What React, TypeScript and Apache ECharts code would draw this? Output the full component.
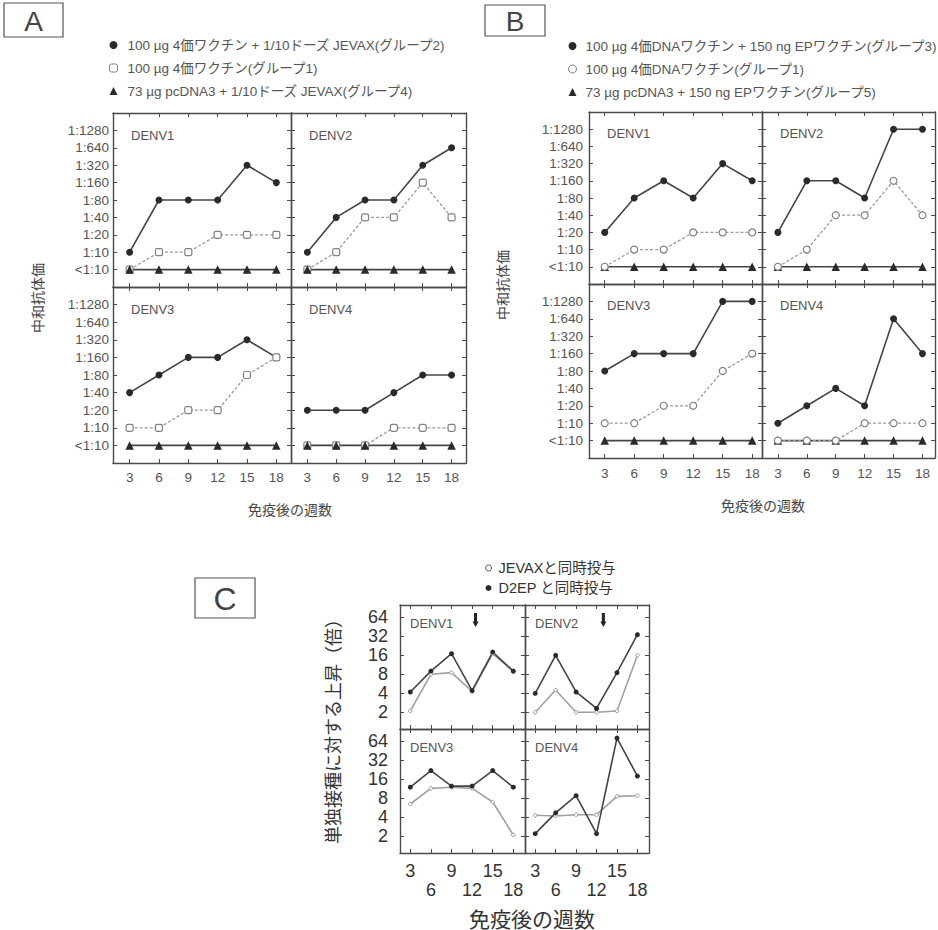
import React, { useEffect, useRef } from 'react';
import * as echarts from 'echarts';

// ---------------- data ----------------
const weeks = [3, 6, 9, 12, 15, 18];
const serotypes = ['DENV1', 'DENV2', 'DENV3', 'DENV4'];
const titerLabels = ['<1:10', '1:10', '1:20', '1:40', '1:80', '1:160', '1:320', '1:640', '1:1280'];
const foldTicks = [2, 4, 8, 16, 32, 64];

const legendA = [
  '100 µg 4価ワクチン + 1/10ドーズ JEVAX(グループ2)',
  '100 µg 4価ワクチン(グループ1)',
  '73 µg pcDNA3 + 1/10ドーズ JEVAX(グループ4)',
];
const legendB = [
  '100 µg 4価DNAワクチン + 150 ng EPワクチン(グループ3)',
  '100 µg 4価DNAワクチン(グループ1)',
  '73 µg pcDNA3 + 150 ng EPワクチン(グループ5)',
];
const legendC = ['JEVAXと同時投与', 'D2EP と同時投与'];

// reciprocal neutralising titres, 0 = <1:10 ; rows = DENV1..DENV4
const aGroup2 = [
  [10, 80, 80, 80, 320, 160],
  [10, 40, 80, 80, 320, 640],
  [40, 80, 160, 160, 320, 160],
  [20, 20, 20, 40, 80, 80],
];
const aGroup1 = [
  [0, 10, 10, 20, 20, 20],
  [0, 10, 40, 40, 160, 40],
  [10, 10, 20, 20, 80, 160],
  [0, 0, 0, 10, 10, 10],
];
const aGroup4 = [
  [0, 0, 0, 0, 0, 0],
  [0, 0, 0, 0, 0, 0],
  [0, 0, 0, 0, 0, 0],
  [0, 0, 0, 0, 0, 0],
];
const bGroup3 = [
  [20, 80, 160, 80, 320, 160],
  [20, 160, 160, 80, 1280, 1280],
  [80, 160, 160, 160, 1280, 1280],
  [10, 20, 40, 20, 640, 160],
];
const bGroup1 = [
  [0, 10, 10, 20, 20, 20],
  [0, 10, 40, 40, 160, 40],
  [10, 10, 20, 20, 80, 160],
  [0, 0, 0, 10, 10, 10],
];
const bGroup5 = [
  [0, 0, 0, 0, 0, 0],
  [0, 0, 0, 0, 0, 0],
  [0, 0, 0, 0, 0, 0],
  [0, 0, 0, 0, 0, 0],
];
// fold increase over single inoculation ; rows = DENV1..DENV4
const cJevax = [
  [2.1, 8, 8.5, 4.3, 17, 8.8],
  [2, 4.5, 2, 2, 2.1, 16],
  [6.5, 11.5, 12, 11.5, 7, 2.1],
  [4.3, 4.2, 4.4, 4.4, 8.6, 8.8],
];
const cD2ep = [
  [4.2, 9, 17, 4.4, 18, 9],
  [4, 16, 4.2, 2.3, 8.5, 34],
  [12, 22, 12.5, 12.5, 22, 12],
  [2.2, 4.7, 8.8, 2.2, 72, 18],
];
const arrowWeeks = [12.5, 13];
const arrowFold = 58;

// ---------------- styling ----------------
const FONT = "'Liberation Sans', Arial, 'Noto Sans CJK JP', sans-serif";
const FRAME = '#4a4a4a';
const DARK = '#2a2a2a';
const LABEL = '#555';

type Box = { left: number; top: number; width: number; height: number };

const A_BOX: Box[] = [
  { left: 113, top: 113, width: 178, height: 174 },
  { left: 291, top: 113, width: 175, height: 174 },
  { left: 113, top: 287, width: 178, height: 176 },
  { left: 291, top: 287, width: 175, height: 176 },
];
const B_BOX: Box[] = [
  { left: 589, top: 112, width: 173, height: 172 },
  { left: 762, top: 112, width: 173, height: 172 },
  { left: 589, top: 284, width: 173, height: 174 },
  { left: 762, top: 284, width: 173, height: 174 },
];
const C_BOX: Box[] = [
  { left: 400, top: 605, width: 125, height: 124 },
  { left: 525, top: 605, width: 124, height: 124 },
  { left: 400, top: 729, width: 125, height: 124 },
  { left: 525, top: 729, width: 124, height: 124 },
];

const titerLevel = (v: number) => (v <= 0 ? 0 : Math.log2(v / 10) + 1);
const foldLevel = (v: number) => Math.log2(v);

function buildOption() {
  const grid: any[] = [];
  const xAxis: any[] = [];
  const yAxis: any[] = [];
  const series: any[] = [];
  const graphic: any[] = [];

  const addPanel = (box: Box, xr: number[], yr: number[], cfg: any) => {
    const g = grid.length;
    grid.push({ left: box.left, top: box.top, width: box.width, height: box.height });
    const line = { show: true, onZero: false, lineStyle: { color: FRAME, width: 1.4 } };
    const tick = (vals: number[]) => ({
      show: true,
      inside: true,
      length: 4,
      customValues: vals,
      lineStyle: { color: FRAME, width: 1 },
    });
    xAxis.push({
      gridIndex: g,
      type: 'value',
      position: 'bottom',
      min: xr[0],
      max: xr[1],
      axisLine: line,
      axisTick: tick(cfg.xTicks),
      splitLine: { show: false },
      axisLabel: cfg.showX
        ? {
            show: true,
            customValues: cfg.xTicks,
            margin: cfg.xMargin,
            fontSize: cfg.xFont,
            color: cfg.labelColor,
            fontFamily: FONT,
            lineHeight: cfg.xLineHeight,
            formatter: cfg.xFormatter,
          }
        : { show: false },
    });
    xAxis.push({
      gridIndex: g,
      type: 'value',
      position: 'top',
      min: xr[0],
      max: xr[1],
      axisLine: line,
      axisTick: tick(cfg.xTicks),
      splitLine: { show: false },
      axisLabel: { show: false },
    });
    yAxis.push({
      gridIndex: g,
      type: 'value',
      position: 'left',
      min: yr[0],
      max: yr[1],
      axisLine: line,
      axisTick: tick(cfg.yTicks),
      splitLine: { show: false },
      axisLabel: cfg.showY
        ? {
            show: true,
            customValues: cfg.yTicks,
            margin: cfg.yMargin,
            fontSize: cfg.yFont,
            color: cfg.labelColor,
            fontFamily: FONT,
            formatter: cfg.yFormatter,
          }
        : { show: false },
    });
    yAxis.push({
      gridIndex: g,
      type: 'value',
      position: 'right',
      min: yr[0],
      max: yr[1],
      axisLine: line,
      axisTick: tick(cfg.yTicks),
      splitLine: { show: false },
      axisLabel: { show: false },
    });
    return 2 * g;
  };

  const titerTicks = titerLabels.map((_, i) => i);
  const titerFmt = (v: number) => titerLabels[Math.round(v)] ?? '';

  const filled = (name: string, ax: number, vals: number[]) => ({
    type: 'line', name, xAxisIndex: ax, yAxisIndex: ax, silent: true,
    data: weeks.map((w, i) => [w, titerLevel(vals[i])]),
    symbol: 'circle', symbolSize: 7,
    itemStyle: { color: DARK },
    lineStyle: { color: '#444', width: 1.6 },
  });
  const open = (name: string, ax: number, vals: number[], sym: string) => ({
    type: 'line', name, xAxisIndex: ax, yAxisIndex: ax, silent: true,
    data: weeks.map((w, i) => [w, titerLevel(vals[i])]),
    symbol: sym, symbolSize: 7,
    itemStyle: { color: '#fff', borderColor: '#808080', borderWidth: 1.2 },
    lineStyle: { color: '#9a9a9a', width: 1.3, type: [3, 2] },
  });
  const tri = (name: string, ax: number, vals: number[]) => ({
    type: 'line', name, xAxisIndex: ax, yAxisIndex: ax, silent: true,
    data: weeks.map((w, i) => [w, titerLevel(vals[i])]),
    symbol: 'triangle', symbolSize: 8.5,
    itemStyle: { color: DARK },
    lineStyle: { color: '#444', width: 1.6 },
  });

  // ---- Panel A ----
  A_BOX.forEach((box, k) => {
    const ax = addPanel(box, [1.3, 19.5], [-1, 9], {
      xTicks: weeks, yTicks: titerTicks,
      showX: k >= 2, showY: k % 2 === 0,
      xMargin: 8, xFont: 13.5, yMargin: 4, yFont: 13.5, labelColor: LABEL,
      yFormatter: titerFmt,
    });
    series.push(filled(legendA[0], ax, aGroup2[k]));
    series.push(open(legendA[1], ax, aGroup1[k], 'roundRect'));
    series.push(tri(legendA[2], ax, aGroup4[k]));
    graphic.push({
      type: 'text', x: box.left + 18, y: box.top + 22, silent: true,
      style: { text: serotypes[k], fill: LABEL, fontSize: 13, fontFamily: FONT, align: 'left', verticalAlign: 'middle' },
    });
  });

  // ---- Panel B ----
  B_BOX.forEach((box, k) => {
    const xr = k % 2 === 0 ? [1.4, 19.0] : [1.35, 19.3];
    const ax = addPanel(box, xr, [-1, 9], {
      xTicks: weeks, yTicks: titerTicks,
      showX: k >= 2, showY: k % 2 === 0,
      xMargin: 9, xFont: 13.5, yMargin: 6, yFont: 13.5, labelColor: LABEL,
      yFormatter: titerFmt,
    });
    series.push(tri(legendB[2], ax, bGroup5[k]));
    series.push(filled(legendB[0], ax, bGroup3[k]));
    series.push(open(legendB[1], ax, bGroup1[k], 'circle'));
    graphic.push({
      type: 'text', x: box.left + 18, y: box.top + 21, silent: true,
      style: { text: serotypes[k], fill: LABEL, fontSize: 13, fontFamily: FONT, align: 'left', verticalAlign: 'middle' },
    });
  });

  // ---- Panel C ----
  const foldTickLevels = foldTicks.map((v) => foldLevel(v));
  C_BOX.forEach((box, k) => {
    const ax = addPanel(box, [1.5, 19.7], [0.12, 6.65], {
      xTicks: weeks, yTicks: foldTickLevels,
      showX: k >= 2, showY: k % 2 === 0,
      xMargin: 8, xFont: 18, xLineHeight: 19, yMargin: 12, yFont: 18, labelColor: '#333',
      xFormatter: (v: number) => (Math.round(v) % 6 === 0 ? '\n' + Math.round(v) : String(Math.round(v))),
      yFormatter: (v: number) => String(Math.round(Math.pow(2, v))),
    });
    series.push({
      type: 'line', name: legendC[0], xAxisIndex: ax, yAxisIndex: ax, silent: true,
      data: weeks.map((w, i) => [w, foldLevel(cJevax[k][i])]),
      symbol: 'circle', symbolSize: 3.5,
      itemStyle: { color: '#fff', borderColor: '#999', borderWidth: 1 },
      lineStyle: { color: '#a0a0a0', width: 1.6 },
    });
    const s: any = {
      type: 'line', name: legendC[1], xAxisIndex: ax, yAxisIndex: ax, silent: true,
      data: weeks.map((w, i) => [w, foldLevel(cD2ep[k][i])]),
      symbol: 'circle', symbolSize: 5,
      itemStyle: { color: DARK },
      lineStyle: { color: '#444', width: 1.6 },
    };
    if (k < 2) {
      s.markPoint = {
        silent: true,
        symbol: 'path://M2,0 L6,0 L6,9 L8,9 L4,15 L0,9 L2,9 Z',
        symbolSize: [6, 14],
        itemStyle: { color: '#222' },
        label: { show: false },
        data: [{ coord: [arrowWeeks[k], foldLevel(arrowFold)] }],
      };
    }
    series.push(s);
    graphic.push({
      type: 'text', x: box.left + 10, y: box.top + 18, silent: true,
      style: { text: serotypes[k], fill: LABEL, fontSize: 13, fontFamily: FONT, align: 'left', verticalAlign: 'middle' },
    });
  });

  // ---- panel letters and axis titles ----
  const letter = (t: string, x: number, y: number, w: number, h: number, fs: number) => [
    { type: 'rect', silent: true, shape: { x, y, width: w, height: h }, style: { fill: 'none', stroke: '#555', lineWidth: 1.2 } },
    {
      type: 'text', silent: true, x: x + w / 2, y: y + h / 2 + 1,
      style: { text: t, fill: '#444', fontSize: fs, fontFamily: FONT, align: 'center', verticalAlign: 'middle' },
    },
  ];
  graphic.push(...letter('A', 4, 3, 59, 34, 28));
  graphic.push(...letter('B', 485, 5, 60, 31, 28));
  graphic.push(...letter('C', 195, 578, 60, 40, 32));

  const title = (t: string, x: number, y: number, fs: number, rot: number, color = '#444') => ({
    type: 'text', silent: true, x, y, rotation: rot,
    style: { text: t, fill: color, fontSize: fs, fontFamily: FONT, align: 'center', verticalAlign: 'middle' },
  });
  graphic.push(title('中和抗体価', 38, 298, 14, Math.PI / 2));
  graphic.push(title('中和抗体価', 503, 285, 14, Math.PI / 2));
  graphic.push(title('免疫後の週数', 290, 510, 14, 0));
  graphic.push(title('免疫後の週数', 763, 506, 14, 0));
  graphic.push(title('単独接種に対する上昇（倍）', 334, 727, 18, Math.PI / 2, '#333'));
  graphic.push(title('免疫後の週数', 532, 919, 21, 0, '#333'));

  const legendCommon = {
    orient: 'vertical',
    selectedMode: false,
    padding: 0,
    itemWidth: 8,
    itemHeight: 8,
    itemGap: 9,
    textStyle: { fontSize: 13.5, color: LABEL, fontFamily: FONT, lineHeight: 14, padding: [0, 0, 0, 5] },
  };

  const legend = [
    {
      ...legendCommon, left: 109, top: 38,
      data: [
        { name: legendA[0], icon: 'circle', itemStyle: { color: DARK, borderWidth: 0 } },
        { name: legendA[1], icon: 'roundRect', itemStyle: { color: '#fff', borderColor: '#808080', borderWidth: 1 } },
        { name: legendA[2], icon: 'triangle', itemStyle: { color: DARK, borderWidth: 0 } },
      ],
    },
    {
      ...legendCommon, left: 568, top: 39,
      textStyle: { ...legendCommon.textStyle, padding: [0, 0, 0, 4] },
      data: [
        { name: legendB[0], icon: 'circle', itemStyle: { color: DARK, borderWidth: 0 } },
        { name: legendB[1], icon: 'circle', itemStyle: { color: '#fff', borderColor: '#808080', borderWidth: 1 } },
        { name: legendB[2], icon: 'triangle', itemStyle: { color: DARK, borderWidth: 0 } },
      ],
    },
    {
      orient: 'vertical', selectedMode: false, padding: 0, left: 485, top: 560,
      itemWidth: 6, itemHeight: 6, itemGap: 4,
      textStyle: { fontSize: 14.5, color: '#333', fontFamily: FONT, lineHeight: 16, padding: [0, 0, 0, 2] },
      data: [
        { name: legendC[0], icon: 'circle', itemStyle: { color: '#fff', borderColor: '#555', borderWidth: 1 } },
        { name: legendC[1], icon: 'circle', itemStyle: { color: DARK, borderWidth: 0 } },
      ],
    },
  ];

  return {
    animation: false,
    backgroundColor: '#fff',
    textStyle: { fontFamily: FONT },
    grid,
    xAxis,
    yAxis,
    series,
    legend,
    graphic,
  };
}

export default function App() {
  const ref = useRef<HTMLDivElement>(null);
  useEffect(() => {
    if (!ref.current) return;
    const chart = echarts.init(ref.current, null, { renderer: 'svg' });
    chart.setOption(buildOption() as any);
    return () => chart.dispose();
  }, []);
  return (
    <div
      ref={ref}
      style={{ position: 'absolute', left: 0, top: 0, width: 938, height: 930, background: '#fff' }}
    />
  );
}
